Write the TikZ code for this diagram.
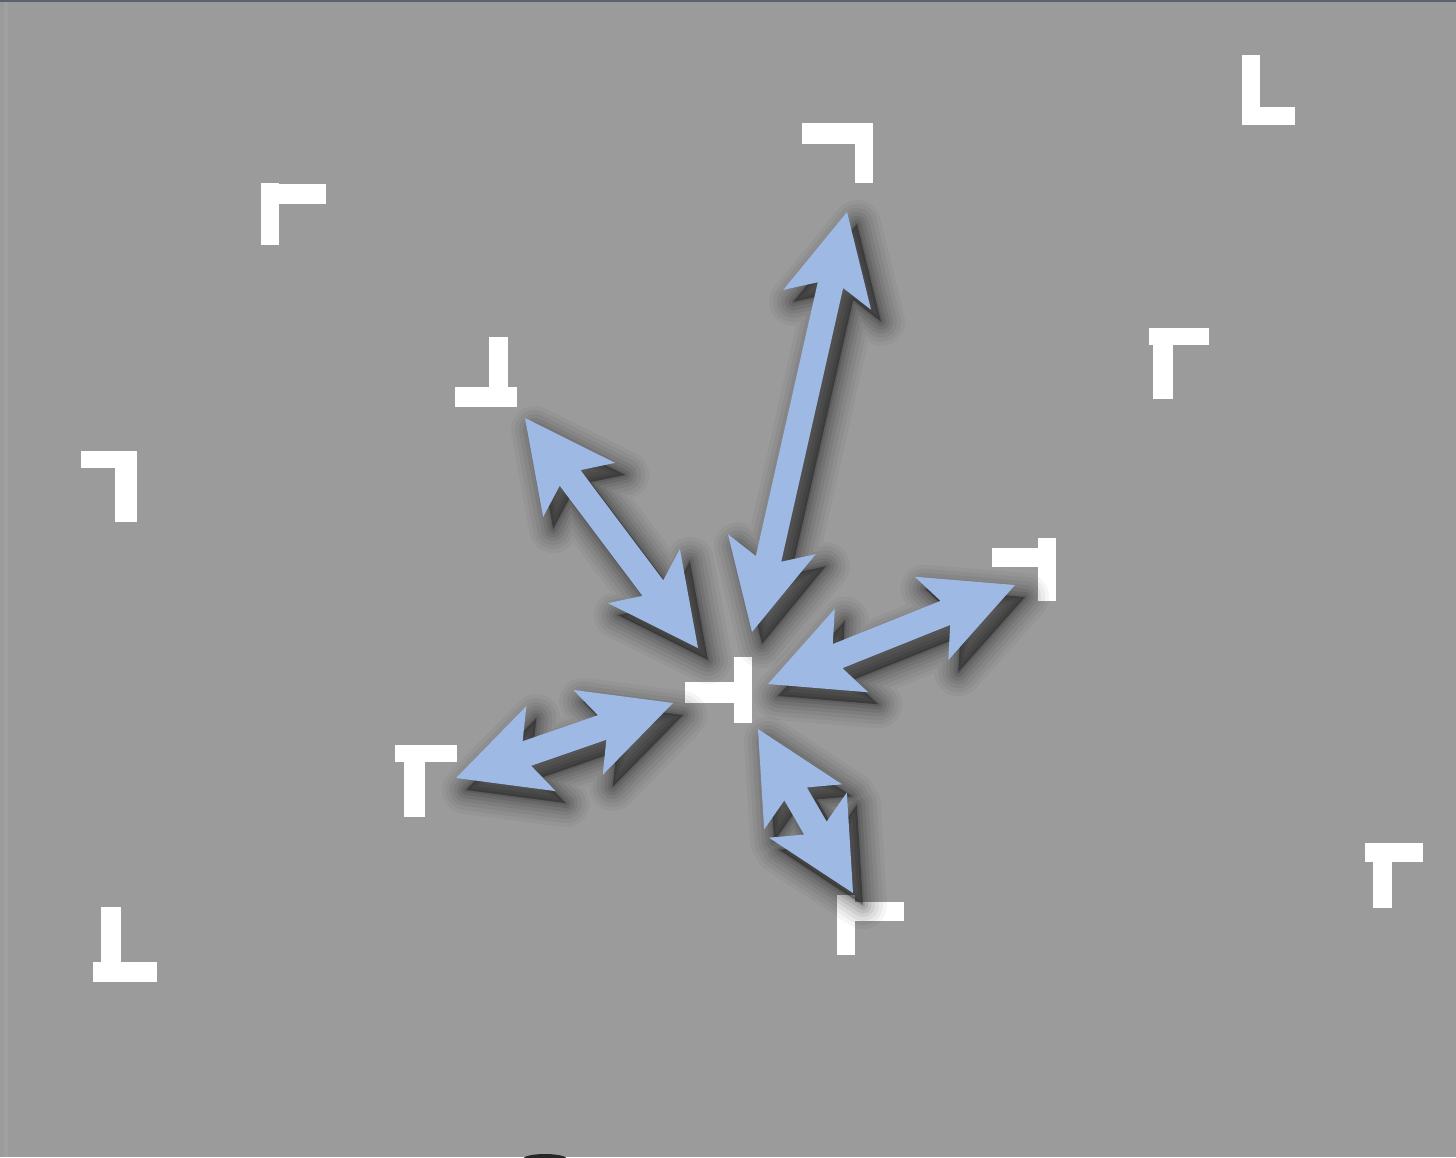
\documentclass[tikz,border=0pt]{standalone}
\usetikzlibrary{calc}
\definecolor{bg}{RGB}{155,155,155}
\definecolor{arrowblue}{RGB}{158,185,228}
\definecolor{topline}{RGB}{92,97,114}
% double block arrow between two named tip coordinates
\newcommand{\dblarrow}[3]{%
  \path[#1] (#3) -- ($(#3)!90pt!(#2)!45pt!90:(#2)$) -- ($(#3)!75pt!(#2)!13pt!90:(#2)$)
   -- ($(#2)!75pt!(#3)!13pt!-90:(#3)$) -- ($(#2)!90pt!(#3)!45pt!-90:(#3)$) -- (#2)
   -- ($(#2)!90pt!(#3)!45pt!90:(#3)$) -- ($(#2)!75pt!(#3)!13pt!90:(#3)$)
   -- ($(#3)!75pt!(#2)!13pt!-90:(#2)$) -- ($(#3)!90pt!(#2)!45pt!-90:(#2)$) -- cycle;}
\tikzset{
  glyph/.style={fill=white},
  arrowbody/.style={fill=arrowblue},
  shadowlayer/.style={draw=black, line join=round, line width=#1},
}
\begin{document}
\begin{tikzpicture}[x=1pt,y=-1pt]
\useasboundingbox (0,0) rectangle (1456,1157);
\fill[bg] (0,0) rectangle (1456,1157);
\fill[topline] (0,0) rectangle (1456,2);
\fill[white,opacity=0.05] (4,2) rectangle (8,1157);
% bottom smudge
\fill[black!85] (545,1159) ellipse [x radius=22, y radius=5];

% white glyphs
\fill[glyph] (261,183) rectangle (279,245);  \fill[glyph] (261,184) rectangle (326,204);
\fill[glyph] (802,123) rectangle (873,144);  \fill[glyph] (855,123) rectangle (873,183);
\fill[glyph] (1242,55) rectangle (1260,125); \fill[glyph] (1242,107) rectangle (1295,125);
\fill[glyph] (489,337) rectangle (508,407);  \fill[glyph] (455,387) rectangle (517,407);
\fill[glyph] (1149,328) rectangle (1209,345);\fill[glyph] (1153,328) rectangle (1173,399);
\fill[glyph] (81,451) rectangle (137,468);   \fill[glyph] (115,451) rectangle (137,522);
\fill[glyph] (992,548) rectangle (1056,567); \fill[glyph] (1038,538) rectangle (1056,601);
\fill[glyph] (685,682) rectangle (752,703);  \fill[glyph] (734,657) rectangle (752,723);
\fill[glyph] (395,745) rectangle (457,762);  \fill[glyph] (404,745) rectangle (425,817);
\fill[glyph] (837,895) rectangle (855,955);  \fill[glyph] (837,902) rectangle (904,921);
\fill[glyph] (101,907) rectangle (121,980);  \fill[glyph] (93,962) rectangle (157,982);
\fill[glyph] (1365,843) rectangle (1423,862);\fill[glyph] (1373,843) rectangle (1392,908);

% arrow tips
\coordinate (cA) at (752,632);  \coordinate (fA) at (847,212);
\coordinate (cB) at (698,648);  \coordinate (fB) at (525,418);
\coordinate (cC) at (768,684);  \coordinate (fC) at (1015,585);
\coordinate (cD) at (673,703);  \coordinate (fD) at (456,778);
\coordinate (cE) at (758,729);  \coordinate (fE) at (853,893);

% soft drop shadows
\begin{scope}[transform canvas={shift={(10,12)}}]
  \foreach \a/\b in {cA/fA, cB/fB, cC/fC, cD/fD, cE/fE}{
    \dblarrow{fill=black, opacity=0.35}{\a}{\b}
  }
  \foreach \lw/\op in {48/0.035, 40/0.045, 32/0.055, 24/0.065, 17/0.075, 10/0.09, 4/0.1}{
    \foreach \a/\b in {cA/fA, cB/fB, cC/fC, cD/fD, cE/fE}{
      \dblarrow{shadowlayer=\lw pt, opacity=\op}{\a}{\b}
    }
  }
\end{scope}
% arrows
\foreach \a/\b in {cA/fA, cB/fB, cC/fC, cD/fD, cE/fE}{
  \dblarrow{arrowbody}{\a}{\b}
}
\end{tikzpicture}
\end{document}
